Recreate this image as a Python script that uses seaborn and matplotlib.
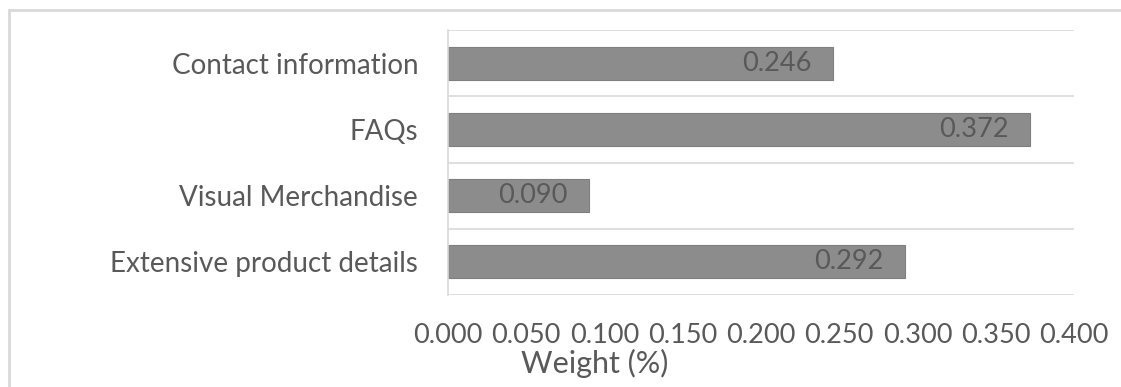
import matplotlib
matplotlib.use("Agg")
import matplotlib.pyplot as plt
import matplotlib.patches as mpatches
import seaborn as sns
import pandas as pd

# Criteria and their weights
categories = ["Contact information", "FAQs", "Visual Merchandise", "Extensive product details"]
weights = [0.246, 0.372, 0.090, 0.292]
x_ticks = [0.0, 0.05, 0.10, 0.15, 0.20, 0.25, 0.30, 0.35, 0.40]
x_label = "Weight (%)"

sns.set_theme(style="white")
plt.rcParams["font.family"] = ["Lato", "DejaVu Sans"]

text_color = "#595959"
grid_color = "#d9d9d9"
bar_color = "#8c8c8c"

df = pd.DataFrame({"criterion": categories, "weight": weights})

fig = plt.figure(figsize=(11.21, 3.87), dpi=100)
ax = fig.add_axes([448 / 1121, 1 - 295 / 387, (1074 - 448) / 1121, (295 - 30) / 387])

sns.barplot(data=df, x="weight", y="criterion", orient="h", color=bar_color,
            width=0.5, saturation=1, edgecolor="#7f7f7f", linewidth=0.8, ax=ax)

ax.set_xlim(0, 0.4)
ax.set_ylim(3.5, -0.5)
ax.set_xticks(x_ticks)
ax.set_xticklabels([f"{t:.3f}" for t in x_ticks])
ax.set_xlabel("")
ax.set_ylabel("")

# Horizontal separators between categories
for yb in [-0.5, 0.5, 1.5, 2.5, 3.5]:
    ax.axhline(yb, color=grid_color, lw=1.2, zorder=0)

for side in ["top", "right", "bottom"]:
    ax.spines[side].set_visible(False)
ax.spines["left"].set_color(grid_color)
ax.spines["left"].set_linewidth(1.2)

ax.tick_params(axis="x", length=0, pad=20, labelsize=19.5, labelcolor=text_color)
ax.tick_params(axis="y", length=0, pad=21.5, labelsize=20, labelcolor=text_color)

# Value labels inside the bar ends
for i, v in enumerate(weights):
    ax.annotate(f"{v:.3f}", xy=(v, i), xytext=(-21, 0), textcoords="offset pixels",
                ha="right", va="center", fontsize=19.5, color=text_color)

fig.text(595 / 1121, 1 - 363 / 387, x_label, ha="center", va="center",
         fontsize=22, color=text_color)

# Chart-area border
fig.patches.append(mpatches.Rectangle((9 / 1121, -0.1), 1.2, 1 - 10 / 387 + 0.1,
                                      transform=fig.transFigure, fill=False,
                                      edgecolor=grid_color, lw=2, zorder=10))

fig.savefig("out.png", dpi=100)
